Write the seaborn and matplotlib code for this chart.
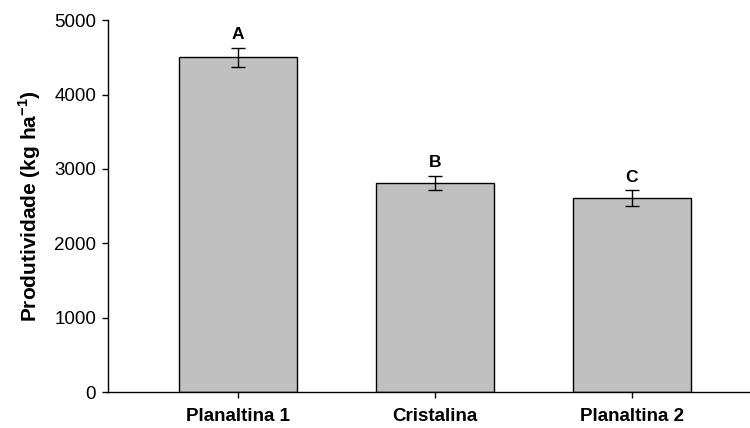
import matplotlib
matplotlib.use("Agg")
import matplotlib.pyplot as plt
import seaborn as sns
import pandas as pd

# Yield per site, standard errors and significance letters
sites = ["Planaltina 1", "Cristalina", "Planaltina 2"]
yield_kg_ha = [4500, 2810, 2610]
std_err = [125, 97, 105]
letters = ["A", "B", "C"]

df = pd.DataFrame({"site": sites, "yield": yield_kg_ha})

sns.set_theme(style="ticks")
plt.rcParams["font.family"] = ["Liberation Sans", "DejaVu Sans"]
plt.rcParams["mathtext.fontset"] = "custom"
plt.rcParams["mathtext.rm"] = "Liberation Sans"
plt.rcParams["mathtext.bf"] = "Liberation Sans:bold"
plt.rcParams["text.color"] = "black"
plt.rcParams["axes.labelcolor"] = "black"
plt.rcParams["xtick.color"] = "black"
plt.rcParams["ytick.color"] = "black"

fig = plt.figure(figsize=(7.5, 4.28), dpi=100)
ax = fig.add_axes([0.144, 0.084, 0.856, 0.869])

sns.barplot(data=df, x="site", y="yield", order=sites, color="#c0c0c0",
            saturation=1, width=0.6, edgecolor="black", linewidth=1.0,
            errorbar=None, ax=ax)

ax.errorbar(range(len(sites)), yield_kg_ha, yerr=std_err, fmt="none",
            ecolor="black", elinewidth=1.0, capsize=5, capthick=1.0)

for i, (v, e, lab) in enumerate(zip(yield_kg_ha, std_err, letters)):
    ax.annotate(lab, xy=(i, v + e), xytext=(0, 4), textcoords="offset points",
                ha="center", va="bottom", fontsize=12.5, fontweight="bold")

ax.set_ylim(0, 5000)
ax.set_xlim(-0.658, 2.6)
ax.set_yticks([0, 1000, 2000, 3000, 4000, 5000])
ax.set_xlabel("")
ax.set_ylabel("Produtividade (kg ha$^{\\mathbf{-1}}$)", fontsize=15,
              fontweight="bold", labelpad=8)

for lbl in ax.get_xticklabels():
    lbl.set_fontweight("bold")
ax.tick_params(axis="x", labelsize=13.5, length=4.5, width=1, direction="out", pad=7)
ax.tick_params(axis="y", labelsize=13.5, length=4.5, width=1, direction="out", pad=4)

for s in ["top", "right"]:
    ax.spines[s].set_visible(False)
ax.spines["left"].set_linewidth(1.0)
ax.spines["bottom"].set_linewidth(1.0)
ax.spines["left"].set_color("black")
ax.spines["bottom"].set_color("black")

fig.savefig("out.png", dpi=100)
